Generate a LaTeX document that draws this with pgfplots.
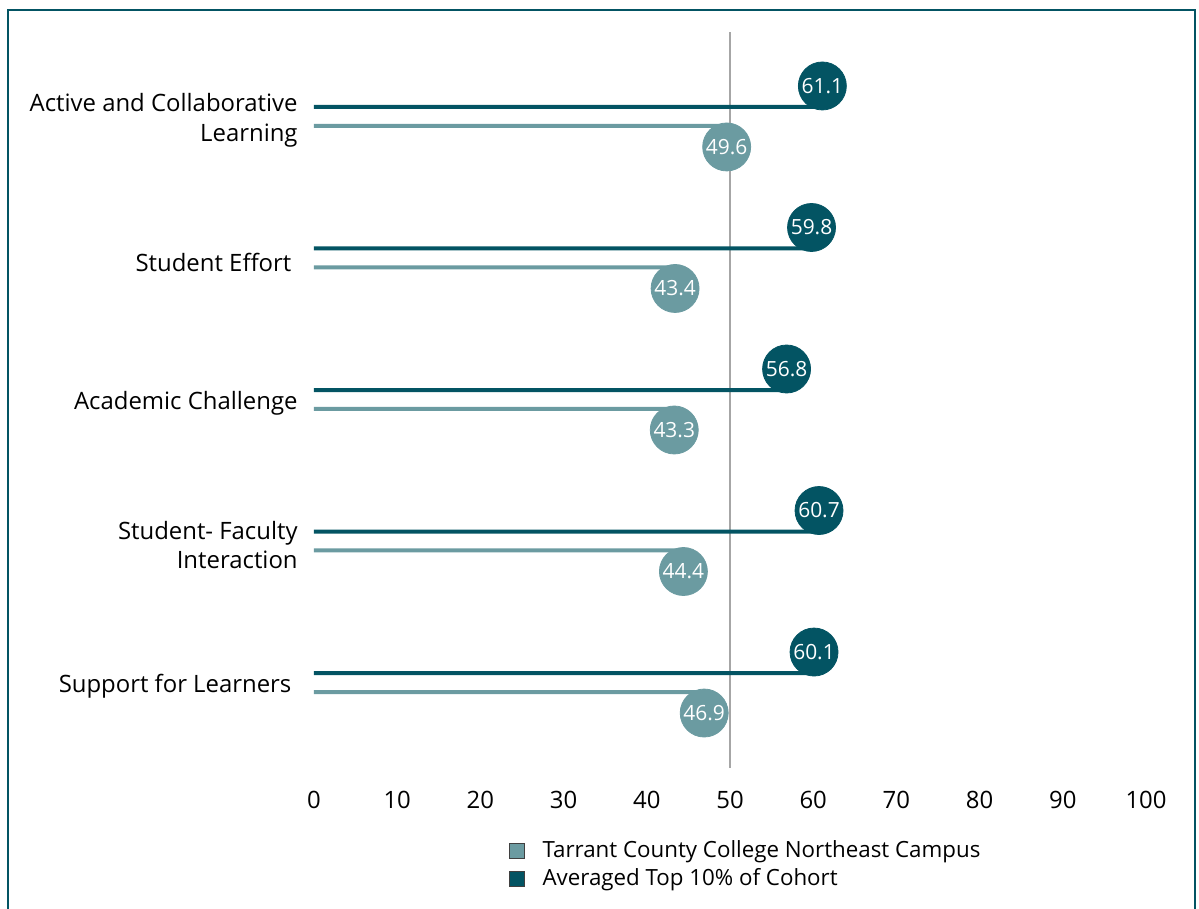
\documentclass[border=0pt]{standalone}
\usepackage{pgfplots}
\pgfplotsset{compat=1.18}
\usepackage{fontspec}
\setmainfont{Open Sans}
\definecolor{darkteal}{RGB}{3,84,99}
\definecolor{lightteal}{RGB}{107,155,161}
\definecolor{refgray}{RGB}{166,166,166}
\begin{document}
\begin{tikzpicture}
\begin{axis}[name=ax, scale only axis, width=416bp, height=368bp,
  xmin=0, xmax=100, ymin=0.396, ymax=5.597, clip=false,
  axis line style={draw=none}, major tick length=0pt,
  xtick={0,10,...,100}, ytick={1,2,3,4,5},
  yticklabels={{Support for Learners\ },{Student- Faculty\\Interaction},{Academic Challenge},{Student Effort\ },{Active and Collaborative\\Learning}},
  yticklabel style={align=right, font=\fontsize{12}{15}\selectfont, inner sep=0pt, xshift=-8bp, yshift=-2bp},
  xticklabel style={font=\fontsize{12}{15}\selectfont, yshift=-8bp},
  /pgf/number format/assume math mode=true,
  legend style={at={(0.232,-0.09)}, anchor=north west, draw=none, fill=none,
    font=\fontsize{11.2}{15}\selectfont, row sep=0pt, inner sep=1pt},
  legend cell align=left,
]
% reference line at 50
\addplot[refgray, line width=1bp, forget plot] coordinates {(50,0.396) (50,5.597)};
% bars (lines)
\addplot[xbar, bar width=2bp, bar shift=0pt, fill=darkteal, draw=none, forget plot]
  coordinates {(61.1,5.067) (59.8,4.067) (56.8,3.067) (60.7,2.067) (60.1,1.067)};
\addplot[xbar, bar width=2bp, bar shift=0pt, fill=lightteal, draw=none, forget plot]
  coordinates {(49.6,4.933) (43.4,3.933) (43.3,2.933) (44.4,1.933) (46.9,0.933)};
% circles
\addplot[darkteal, only marks, mark=*, mark size=12bp, mark options={fill=darkteal, draw=darkteal},
  point meta=x, nodes near coords={\pgfmathprintnumber[fixed,precision=1,fixed zerofill]{\pgfplotspointmeta}},
  every node near coord/.style={anchor=center, text=white, font=\fontsize{10.5}{12}\selectfont}, forget plot]
  coordinates {(61.1,5.2155) (59.8,4.2155) (56.8,3.2155) (60.7,2.2155) (60.1,1.2155)};
\addplot[lightteal, only marks, mark=*, mark size=12bp, mark options={fill=lightteal, draw=lightteal},
  point meta=x, nodes near coords={\pgfmathprintnumber[fixed,precision=1,fixed zerofill]{\pgfplotspointmeta}},
  every node near coord/.style={anchor=center, text=white, font=\fontsize{10.5}{12}\selectfont}, forget plot]
  coordinates {(49.6,4.7845) (43.4,3.7845) (43.3,2.7845) (44.4,1.7845) (46.9,0.7845)};
\addlegendimage{only marks, mark=square*, mark size=3.8bp, mark options={fill=lightteal, draw=black!75, line width=0.4bp}}
\addlegendentry{\hspace{7bp}Tarrant County College Northeast Campus}
\addlegendimage{only marks, mark=square*, mark size=3.8bp, mark options={fill=darkteal, draw=black!75, line width=0.4bp}}
\addlegendentry{\hspace{7bp}Averaged Top 10\% of Cohort}
\end{axis}
\useasboundingbox ([shift={(-157bp,-70.5bp)}]ax.south west) rectangle ([shift={(442.5bp,384bp)}]ax.south west);
\clip ([shift={(-157bp,-70.5bp)}]ax.south west) rectangle ([shift={(442.5bp,384bp)}]ax.south west);
\draw[darkteal, line width=1bp] ([shift={(-153bp,-96bp)}]ax.south west) rectangle ([shift={(440.5bp,379bp)}]ax.south west);
\end{tikzpicture}
\end{document}
